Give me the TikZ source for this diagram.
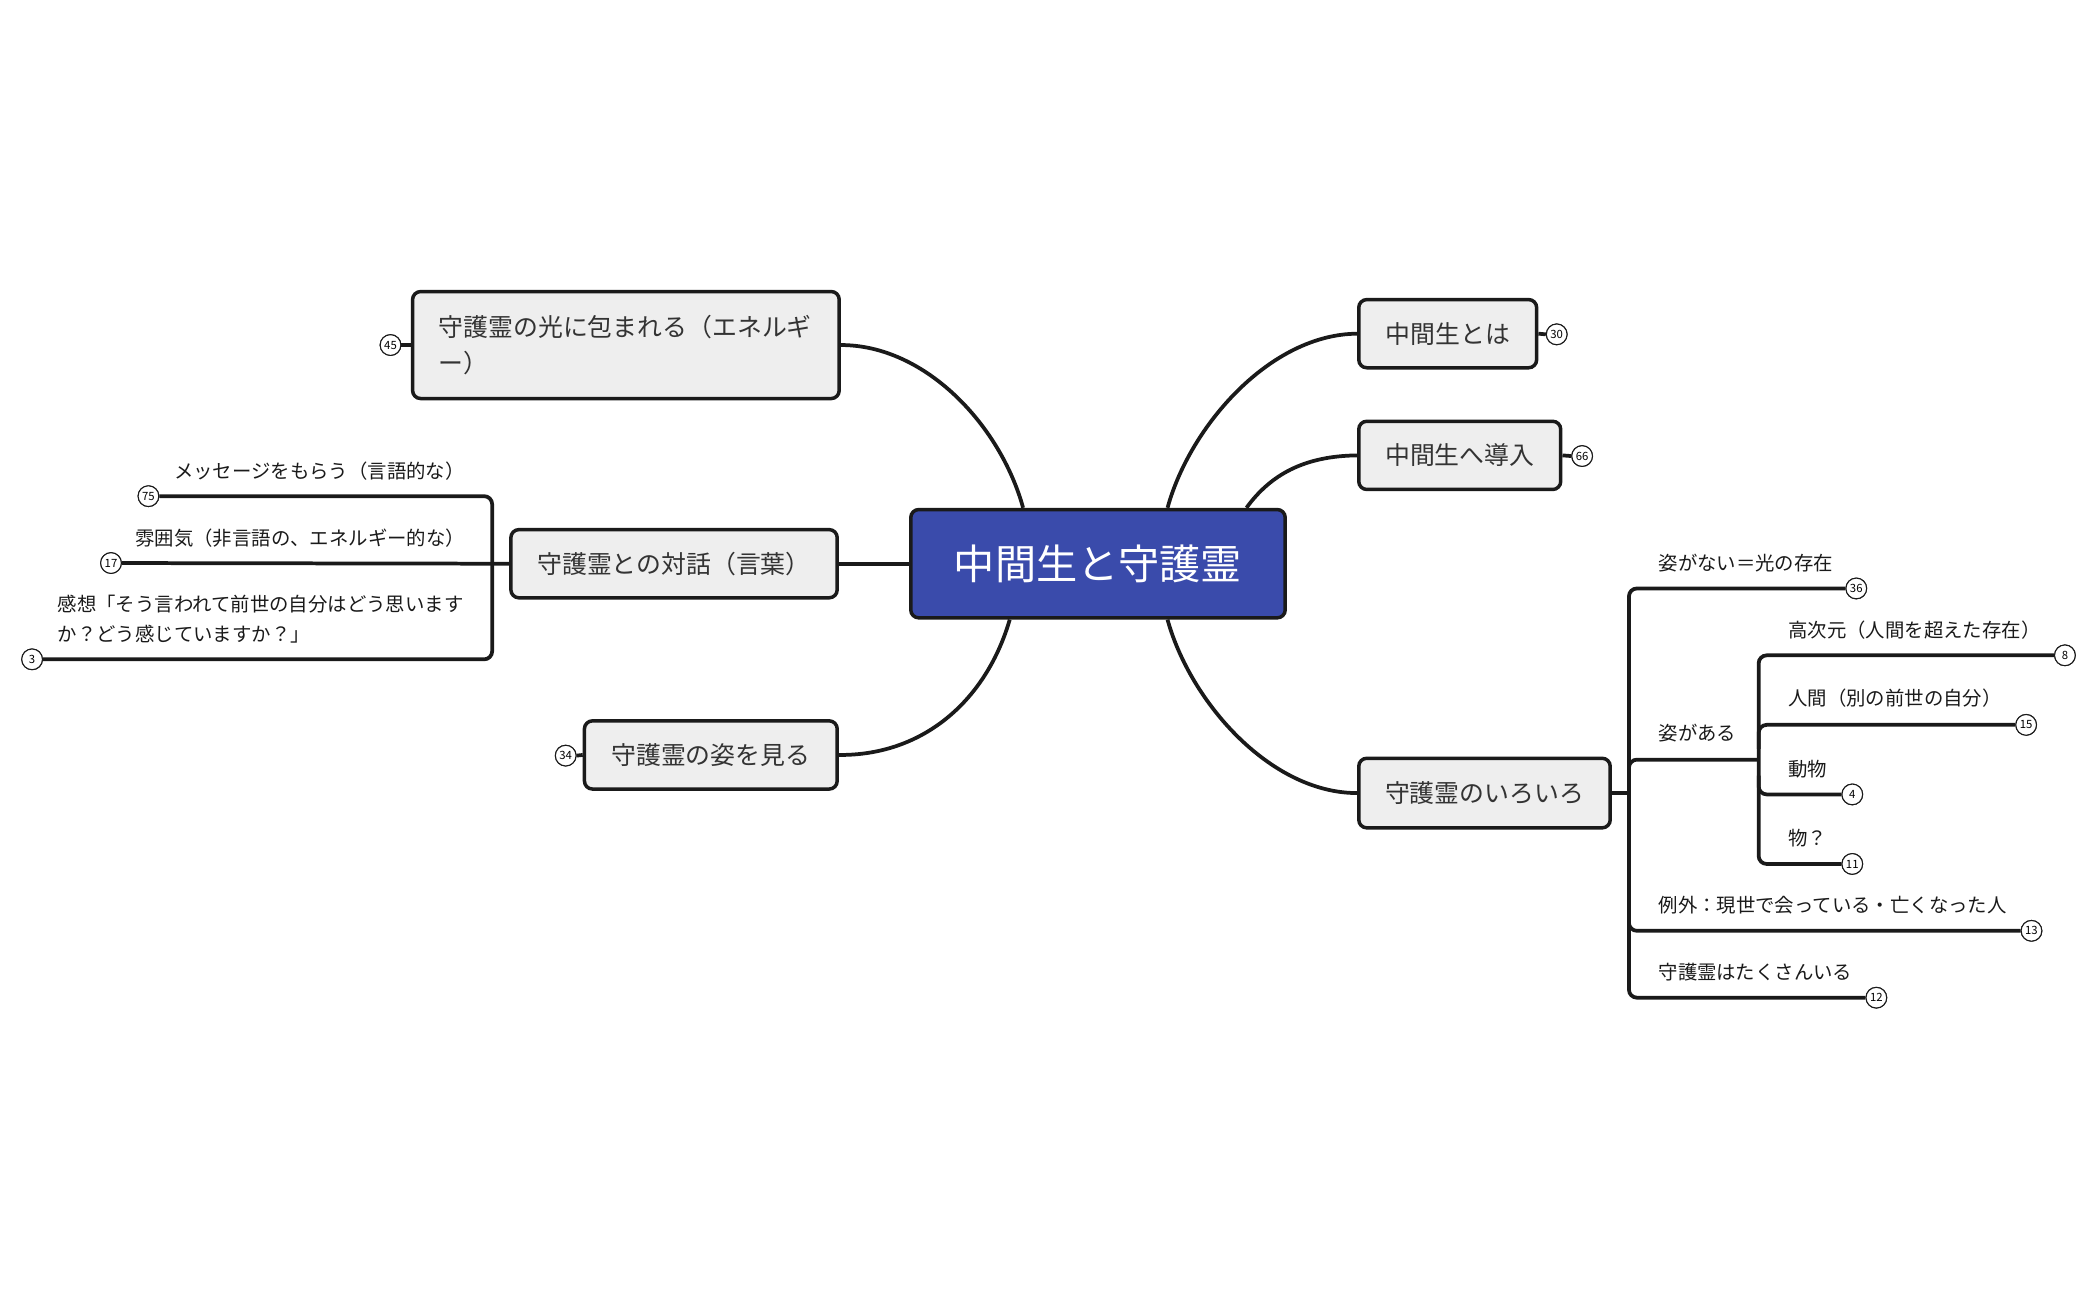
\documentclass[tikz,border=0pt]{standalone}
\usepackage{fontspec}
\setmainfont{Noto Sans CJK JP}
\definecolor{cblue}{HTML}{3A4BAB}
\definecolor{tgray}{HTML}{EEEEEE}
\definecolor{ink}{HTML}{1A1A1A}
\begin{document}
\begin{tikzpicture}[x=1pt,y=-1pt,
  topic/.style={draw=ink,line width=2.6pt,fill=tgray,rounded corners=6pt,text=black!80,
    font=\fontsize{18.6}{27}\selectfont,inner sep=0pt},
  central/.style={draw=ink,line width=2.6pt,fill=cblue,rounded corners=6pt,text=white,
    font=\fontsize{30.8}{36}\selectfont,inner sep=0pt,minimum width=280pt,minimum height=81pt},
  conn/.style={draw=ink,line width=2.8pt},
  br/.style={draw=ink,line width=2.8pt,rounded corners=6pt},
  badge/.style={circle,draw=ink,line width=0.8pt,fill=white,minimum size=15.5pt,inner sep=0pt,
    font=\fontsize{8.5}{9}\selectfont},
  lbl/.style={anchor=west,inner sep=0pt,text=ink,font=\fontsize{14.5}{22}\selectfont,align=left}]
\useasboundingbox (0,0) rectangle (1568,972);

% central
\node[central] (c) at (821,421.5) {中間生と守護霊};

% topics
\node[topic,minimum width=319pt,minimum height=80pt,text width=280pt,align=left] (light) at (468,258) {守護霊の光に包まれる（エネルギ\\ー）};
\node[topic,minimum width=244pt,minimum height=51pt] (dlg) at (504,421.5) {守護霊との対話（言葉）};
\node[topic,minimum width=189pt,minimum height=51pt] (see) at (531.5,564.5) {守護霊の姿を見る};
\node[topic,minimum width=133pt,minimum height=51pt] (what) at (1082.5,249.5) {中間生とは};
\node[topic,minimum width=151pt,minimum height=51pt] (intro) at (1091.5,340.5) {中間生へ導入};
\node[topic,minimum width=188pt,minimum height=52pt] (var) at (1110,593) {守護霊のいろいろ};

% main connectors
\draw[conn] ([xshift=-56pt]c.north) .. controls (748,318) and (692,258) .. (light.east);
\draw[conn] ([xshift=52pt]c.north) .. controls (890,318) and (950,250) .. (what.west);
\draw[conn] ([xshift=111pt]c.north) .. controls (950,355) and (975,341) .. (intro.west);
\draw[conn] ([xshift=52pt]c.south) .. controls (890,525) and (950,593) .. (var.west);
\draw[conn] ([xshift=-66pt]c.south) .. controls (738,522) and (692,565) .. (see.east);
\draw[conn] (c.west) -- (dlg.east);

% badges of topics
\node[badge] (b45) at (292,258) {45};
\node[badge] (b34) at (423,565) {34};
\node[badge] (b30) at (1164,250) {30};
\node[badge] (b66) at (1183,341) {66};
\draw[conn] (light.west) -- (b45.east);
\draw[conn] (see.west) -- (b34.east);
\draw[conn] (what.east) -- (b30.west);
\draw[conn] (intro.east) -- (b66.west);
\node[badge] at (292,258) {45};
\node[badge] at (423,565) {34};
\node[badge] at (1164,250) {30};
\node[badge] at (1183,341) {66};

% left bracket (dialogue)
\node[badge] (b75) at (111,371) {75};
\node[badge] (b17) at (83,421) {17};
\node[badge] (b3) at (24,493) {3};
\coordinate (lj) at (368,421);
\draw[br] (b75.east) -- (368,371) -- (368,493) -- (b3.east);
\draw[conn] (b17.east) -- (dlg.west);
\node[badge] at (111,371) {75};
\node[badge] at (83,421) {17};
\node[badge] at (24,493) {3};
\node[lbl] (t75) at (130,352) {メッセージをもらう（言語的な）};
\node[lbl] (t17) at (101,402) {雰囲気（非言語の、エネルギー的な）};
\node[lbl] (t3) at (43,463) {感想「そう言われて前世の自分はどう思います\\か？どう感じていますか？」};

% right bracket (variety)
\node[badge] (b36) at (1388,440) {36};
\node[badge] (b8) at (1544,490) {8};
\node[badge] (b15) at (1515,542) {15};
\node[badge] (b4) at (1385,594) {4};
\node[badge] (b11) at (1385,646) {11};
\node[badge] (b13) at (1519,696) {13};
\node[badge] (b12) at (1403,746) {12};
\coordinate (rj) at (1218,593);
\coordinate (sj) at (1315,568);
\draw[conn] (var.east) -- (rj);
\draw[br] (b36.west) -- (1218,440) -- (1218,746) -- (b12.west);
\draw[br] (1218,590) -- (1218,568) -- (sj);
\draw[br] (1218,680) -- (1218,696) -- (b13.west);
\draw[br] (b8.west) -- (1315,490) -- (1315,646) -- (b11.west);
\draw[br] (1315,560) -- (1315,542) -- (b15.west);
\draw[br] (1315,580) -- (1315,594) -- (b4.west);
\foreach \p/\t in {{1388,440}/36, {1544,490}/8, {1515,542}/15, {1385,594}/4, {1385,646}/11, {1519,696}/13, {1403,746}/12}
  \node[badge] at (\p) {\t};
\node[lbl] (t36) at (1240,421) {姿がない＝光の存在};
\node[lbl] (tsg) at (1240,548) {姿がある};
\node[lbl] (t8) at (1337,471) {高次元（人間を超えた存在）};
\node[lbl] (t15) at (1337,522) {人間（別の前世の自分）};
\node[lbl] (t4) at (1337,575) {動物};
\node[lbl] (t11) at (1337,627) {物？};
\node[lbl] (t13) at (1240,677) {例外：現世で会っている・亡くなった人};
\node[lbl] (t12) at (1240,727) {守護霊はたくさんいる};
\end{tikzpicture}
\end{document}
